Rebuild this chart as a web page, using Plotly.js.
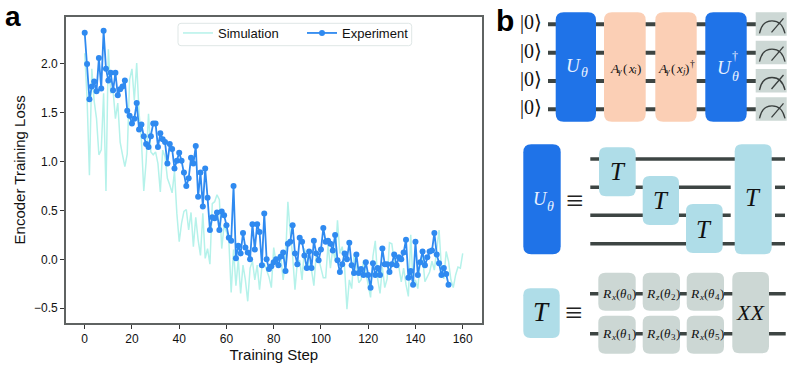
<!DOCTYPE html>
<html><head><meta charset="utf-8">
<script src="https://cdn.plot.ly/plotly-3.0.1.min.js"></script>
<style>html,body{margin:0;padding:0;background:#fff}</style></head>
<body><div id="chart" style="width:793px;height:376px"></div>
<script>
const experimentLoss = [2.32,2.0,1.64,1.77,1.82,1.72,2.06,1.75,2.34,1.95,1.83,1.91,1.73,1.91,1.68,1.74,1.77,1.83,1.52,1.47,
1.39,1.44,1.60,1.33,1.38,1.26,1.18,1.15,1.26,1.39,1.39,1.15,1.29,1.23,1.20,0.98,1.18,1.13,0.93,1.01,
1.09,1.01,0.89,0.75,0.83,1.04,0.98,1.16,0.64,0.89,0.54,0.93,0.63,0.30,0.43,0.42,0.48,0.30,0.49,0.45,
0.35,0.22,0.19,0.75,0.01,0.14,0.06,0.27,0.12,0.07,0.0,0.36,0.10,0.36,0.28,-0.06,0.47,0.0,-0.10,-0.07,
-0.03,0.0,-0.06,0.03,0.07,-0.12,0.16,0.18,0.35,0.06,-0.05,0.22,0.18,0.04,-0.09,0.08,-0.09,0.19,0.06,-0.01,
0.10,0.32,0.18,0.19,0.16,0.09,0.25,-0.01,-0.13,-0.05,0.06,0.0,0.17,-0.06,-0.14,0.05,-0.14,-0.10,-0.16,-0.03,
-0.16,-0.29,-0.04,-0.16,-0.09,-0.16,0.11,-0.05,-0.05,-0.13,-0.05,0.05,-0.06,0.02,0.0,0.07,0.20,-0.19,-0.12,-0.26,
0.18,-0.16,-0.03,0.08,-0.06,0.02,0.08,0.09,0.27,0.05,-0.04,-0.16,-0.09,-0.15,-0.26];
const simulationLoss = [2.11,1.65,0.86,1.95,1.62,1.44,1.07,1.12,1.70,0.70,2.15,1.70,1.73,1.44,1.60,1.20,1.07,0.95,1.08,1.84,
1.95,1.63,2.01,1.50,1.22,0.70,1.00,1.49,1.10,1.07,1.10,0.98,0.69,1.12,1.05,0.83,0.76,0.68,0.90,0.47,
0.18,0.37,0.49,0.51,0.30,0.48,0.13,0.43,0.20,0.04,0.47,0.01,0.11,-0.05,0.57,0.59,0.66,0.61,0.11,0.35,
0.28,0.20,-0.34,0.10,-0.27,0.0,-0.35,-0.06,-0.21,-0.43,-0.09,-0.02,-0.21,-0.06,-0.31,-0.08,-0.04,-0.11,-0.18,-0.29,
0.12,-0.03,0.04,0.03,-0.21,-0.01,0.59,0.27,0.04,-0.31,-0.03,-0.01,-0.21,0.11,0.03,-0.06,-0.11,-0.27,0.06,0.01,
-0.09,-0.19,-0.19,0.15,-0.09,0.11,-0.01,0.40,0.06,0.13,-0.08,-0.51,-0.21,-0.30,0.05,-0.05,-0.24,-0.21,-0.01,-0.14,
-0.28,-0.39,0.03,0.19,-0.20,-0.35,-0.08,-0.29,-0.20,0.17,0.16,-0.02,-0.06,-0.08,-0.23,-0.09,-0.26,-0.38,0.25,-0.26,
-0.21,-0.30,-0.02,0.03,-0.23,-0.18,-0.13,-0.02,-0.11,0.10,0.30,-0.09,-0.20,0.08,-0.02,-0.21,-0.29,-0.16,-0.08,-0.09,0.06];
const experimentSteps = experimentLoss.map((_, i) => i);
const simulationSteps = simulationLoss.map((_, i) => i);
const xTicks = [0,20,40,60,80,100,120,140,160];
const yTicks = [-0.5,0,0.5,1,1.5,2];
const yTickLabels = ['−0.5','0.0','0.5','1.0','1.5','2.0'];

const W = 793, H = 376;
const SANS = '"Liberation Sans", Arial, sans-serif';
const SERIF = '"Liberation Serif", "DejaVu Serif", serif';
const BLUE = '#1f73e8', PEACH = '#fbcfb5', TEAL = '#afdde8', GREY = '#ccd7d4', WIRE = '#3d4543', WHITEISH = '#e8f1ff', INK = '#111';
const fx = p => p / W, fy = p => 1 - p / H;
const P = (x, y) => fx(x) + ',' + fy(y);
const shapes = [], annotations = [];

function wire(x0, x1, y, w) {
  shapes.push({type:'line', xref:'paper', yref:'paper', x0:fx(x0), x1:fx(x1), y0:fy(y), y1:fy(y),
    line:{color:WIRE, width:w || 3.5}});
}
function roundedPath(x0, y0, x1, y1, r) {
  return 'M' + P(x0 + r, y0) + ' L' + P(x1 - r, y0) + ' Q' + P(x1, y0) + ' ' + P(x1, y0 + r) +
    ' L' + P(x1, y1 - r) + ' Q' + P(x1, y1) + ' ' + P(x1 - r, y1) +
    ' L' + P(x0 + r, y1) + ' Q' + P(x0, y1) + ' ' + P(x0, y1 - r) +
    ' L' + P(x0, y0 + r) + ' Q' + P(x0, y0) + ' ' + P(x0 + r, y0) + ' Z';
}
function box(x0, y0, x1, y1, color, r) {
  shapes.push({type:'path', xref:'paper', yref:'paper', path:roundedPath(x0, y0, x1, y1, r === undefined ? 7 : r),
    fillcolor:color, line:{width:0}});
}
function label(x, y, text, size, color, family, style, anchor) {
  annotations.push({xref:'paper', yref:'paper', x:fx(x), y:fy(y), text, showarrow:false, borderpad:0,
    xanchor:anchor || 'center', yanchor:'middle',
    font:{size, color:color || INK, family:family || SERIF, style:style || 'normal'}});
}
const mi = (x, y, text, size, color) => label(x, y, text, size, color, SERIF, 'italic', 'left');
const mn = (x, y, text, size, color) => label(x, y, text, size, color, SERIF, 'normal', 'left');

function meter(yc) {
  box(755.7, yc - 12, 786.7, yc + 11.5, '#cdd8d5', 0);
  shapes.push({type:'path', xref:'paper', yref:'paper',
    path:'M' + P(759.5, yc + 9) + ' Q' + P(762, yc - 3.5) + ' ' + P(772, yc - 3.5) + ' Q' + P(782, yc - 3.5) + ' ' + P(785, yc + 9),
    line:{color:'#3a3f3e', width:1.3}});
  shapes.push({type:'line', xref:'paper', yref:'paper', x0:fx(771.5), y0:fy(yc + 8), x1:fx(783.5), y1:fy(yc - 6),
    line:{color:'#3a3f3e', width:1.3}});
}
function rotation(x, y, axisName, index) {
  mi(x, y, 'R', 13.5);
  mi(x + 8.5, y + 3.5, axisName, 9);
  mn(x + 13.5, y, '(', 13);
  mi(x + 18, y, 'θ', 13);
  mn(x + 24.5, y + 3.5, String(index), 9);
  mn(x + 29.5, y, ')', 13);
}
function ampl(x, y, sub, dagger) {
  mi(x, y, 'A', 13.5);
  mi(x + 8.5, y + 3, 'γ', 9);
  mn(x + 13.5, y, '(', 13);
  mi(x + 18, y, 'x', 13);
  mi(x + 24, y + 3, sub, 9);
  mn(x + 27.5, y, ')', 13);
  if (dagger) mn(x + 32.5, y - 4, '†', 9.5);
}

// top circuit
[24.3, 52.7, 81, 109.3].forEach(y => { wire(548, 756, y, 4); label(530.5, y - 1.5, '|0⟩', 20); });
box(555.7, 12.3, 596, 121.7, BLUE, 8);
box(604, 12.3, 645.7, 121.7, PEACH, 8);
box(655.3, 12.3, 696.7, 121.7, PEACH, 8);
box(705.3, 12.3, 746.7, 121.7, BLUE, 8);
[24.3, 52.7, 81, 109.3].forEach(meter);
mi(565, 66, 'U', 19, WHITEISH); mi(579.5, 72.5, 'θ', 14, WHITEISH);
ampl(608.5, 68, 'i', false);
ampl(656.5, 68, 'j', true);
mi(716, 67, 'U', 19, WHITEISH); mn(731, 56.5, '†', 12, WHITEISH); mi(730.5, 76, 'θ', 14, WHITEISH);

// U expansion
wire(590.3, 785, 159); wire(590.3, 730.7, 187.3); wire(775, 785, 187.3);
wire(590.3, 730.7, 215.3); wire(775, 785, 215.3); wire(590.3, 785, 243.7);
box(523.3, 144.3, 560.7, 254.3, BLUE, 8);
box(599, 147.3, 635.7, 196.3, TEAL, 7);
box(642.7, 176, 679, 225, TEAL, 7);
box(686, 204, 722.7, 253, TEAL, 7);
box(734.7, 144.3, 771.7, 254.3, TEAL, 7);
mi(531.5, 199, 'U', 18.5, WHITEISH); mi(545.5, 206, 'θ', 14, WHITEISH);
label(574.3, 200, '≡', 31, '#222');
const bigT = (x, y, s) => label(x, y, 'T', s || 25, INK, SERIF, 'italic');
bigT(617.5, 171); bigT(661, 200); bigT(704, 229); bigT(753, 197);

// T expansion
wire(590, 785.7, 293.7); wire(590, 785.7, 333.7);
box(523.3, 288.3, 559.7, 338, TEAL, 7);
bigT(541.5, 312, 27);
label(573, 312, '≡', 31, '#222');
[[598.3, 635.7, 'x', 0, 1], [642.7, 680, 'z', 2, 3], [686.7, 724, 'x', 4, 5]].forEach(c => {
  box(c[0], 272.7, c[1], 310.7, GREY, 7);
  box(c[0], 315.7, c[1], 353.7, GREY, 7);
  const left = (c[0] + c[1]) / 2 - 16;
  rotation(left, 293, c[2], c[3]);
  rotation(left, 333, c[2], c[4]);
});
box(732.3, 272, 769, 353.3, GREY, 7);
label(750.5, 312, 'XX', 22, INK, SERIF, 'italic');

// legend frame
shapes.push({type:'path', xref:'paper', yref:'paper', path:roundedPath(178, 23.3, 411.7, 45.7, 3),
  fillcolor:'rgba(0,0,0,0)', line:{color:'#dfe7e6', width:1}});

// panel letters
label(13, 16.5, '<b>a</b>', 28, '#000', SANS);
label(505, 20, '<b>b</b>', 30, '#000', SANS);

const traces = [
  {x:simulationSteps, y:simulationLoss, name:'Simulation', mode:'lines', line:{color:'#b5f2ea', width:1.5}},
  {x:experimentSteps, y:experimentLoss, name:'Experiment', mode:'lines+markers',
   line:{color:'#2f8af0', width:1.8}, marker:{color:'#2f8af0', size:6}}
];
const axisCommon = {showgrid:false, zeroline:false, showline:true, mirror:true, linecolor:'#5f6362', linewidth:1.8,
  ticks:'outside', ticklen:4, tickwidth:1, tickcolor:'#333', tickfont:{size:12, color:'#111', family:SANS}};
const layout = {
  width:W, height:H, margin:{l:0, r:0, t:0, b:0, pad:0}, paper_bgcolor:'#fff', plot_bgcolor:'#fff',
  font:{family:SANS, color:'#111'}, shapes, annotations,
  xaxis:Object.assign({}, axisCommon, {domain:[66/W, 481.7/W], range:[-7.92, 168.04], tickmode:'array', tickvals:xTicks,
    ticktext:xTicks.map(String), title:{text:'Training Step', font:{size:15, color:'#111', family:SANS}, standoff:3}}),
  yaxis:Object.assign({}, axisCommon, {domain:[1 - 322.7/H, 1 - 17/H], range:[-0.649, 2.481], tickmode:'array', tickvals:yTicks,
    ticktext:yTickLabels, title:{text:'Encoder Training Loss', font:{size:15, color:'#111', family:SANS}, standoff:5}}),
  legend:{orientation:'h', x:178/W, xanchor:'left', y:1 - 18/H, yanchor:'top', bgcolor:'rgba(0,0,0,0)',
    borderwidth:0, font:{size:13, color:'#111', family:SANS}, itemwidth:30, entrywidth:79, entrywidthmode:'pixels'}
};
Plotly.newPlot('chart', traces, layout, {displayModeBar:false, responsive:false});
</script></body></html>
